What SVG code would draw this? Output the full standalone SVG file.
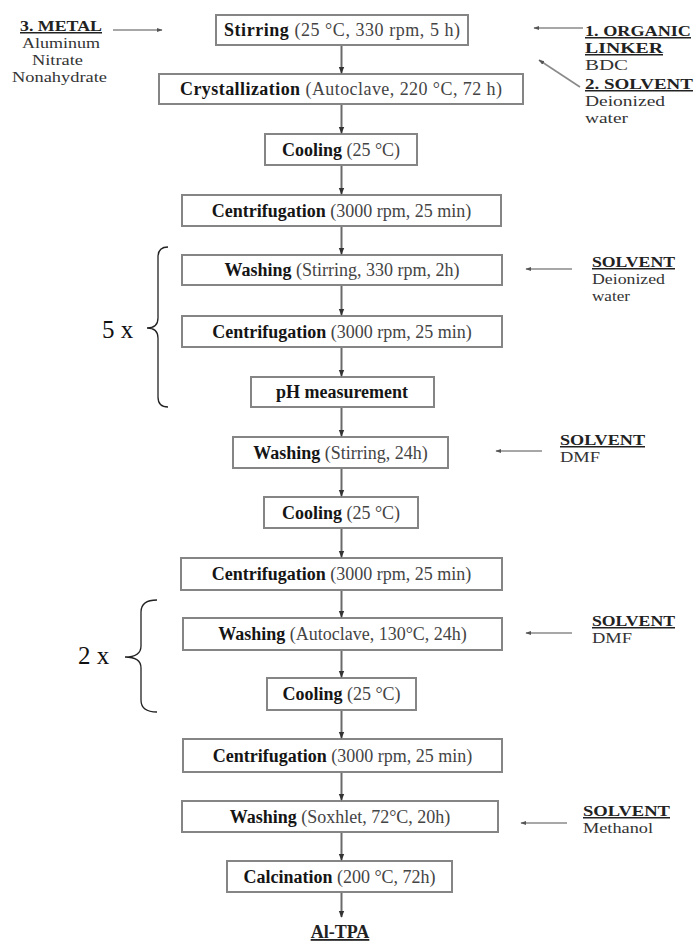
<svg xmlns="http://www.w3.org/2000/svg" width="697" height="947" viewBox="0 0 697 947">
<defs>
<marker id="ah" viewBox="0 0 10 10" refX="9" refY="5" markerWidth="7" markerHeight="7" markerUnits="userSpaceOnUse" orient="auto">
<path d="M0,1 L10,5 L0,9 z" fill="#333"/>
</marker>
<marker id="ahs" viewBox="0 0 10 10" refX="9" refY="5" markerWidth="6" markerHeight="6" markerUnits="userSpaceOnUse" orient="auto">
<path d="M0,1.5 L10,5 L0,8.5 z" fill="#555"/>
</marker>
<style>
text{font-family:"Liberation Serif","Times New Roman",serif;font-size:18px;fill:#2a2a2a}
.box rect{fill:#fff;stroke:#858585;stroke-width:2}
.box text{text-anchor:middle}
.b{font-weight:bold;fill:#151515}
.r{fill:#444}
.hd{font-weight:bold;text-decoration:underline;fill:#222}
.lbl{fill:#333}
.sl{font-size:15px}
.conn line{stroke:#6a6a6a;stroke-width:2}
.side line{stroke:#8a8a8a;stroke-width:1.6}
.brace{fill:none;stroke:#222;stroke-width:1.3}
.rep{font-size:25px;fill:#111}
</style>
</defs>
<rect width="697" height="947" fill="#fff"/>

<g id="n1" class="box"><rect x="216" y="15" width="252" height="30"/><text x="342" y="36" textLength="236" lengthAdjust="spacing"><tspan class="b">Stirring</tspan><tspan class="r"> (25 °C, 330 rpm, 5 h)</tspan></text></g>
<g id="n2" class="box"><rect x="159" y="74" width="364" height="30"/><text x="341" y="95" textLength="322" lengthAdjust="spacing"><tspan class="b">Crystallization</tspan><tspan class="r"> (Autoclave, 220 °C, 72 h)</tspan></text></g>
<g id="n3" class="box"><rect x="265" y="134" width="152" height="31"/><text x="341" y="156"><tspan class="b">Cooling</tspan><tspan class="r"> (25 °C)</tspan></text></g>
<g id="n4" class="box"><rect x="182" y="195" width="319" height="31"/><text x="341.5" y="217"><tspan class="b">Centrifugation</tspan><tspan class="r"> (3000 rpm, 25 min)</tspan></text></g>
<g id="n5" class="box"><rect x="182" y="255" width="320" height="30"/><text x="342" y="276"><tspan class="b">Washing</tspan><tspan class="r"> (Stirring, 330 rpm, 2h)</tspan></text></g>
<g id="n6" class="box"><rect x="182" y="316" width="320" height="31"/><text x="342" y="338"><tspan class="b">Centrifugation</tspan><tspan class="r"> (3000 rpm, 25 min)</tspan></text></g>
<g id="n7" class="box"><rect x="251" y="377" width="183" height="30"/><text x="342" y="398"><tspan class="b">pH measurement</tspan></text></g>
<g id="n8" class="box"><rect x="233" y="437" width="215" height="31"/><text x="340.5" y="459"><tspan class="b">Washing</tspan><tspan class="r"> (Stirring, 24h)</tspan></text></g>
<g id="n9" class="box"><rect x="264" y="497" width="154" height="31"/><text x="341" y="519"><tspan class="b">Cooling</tspan><tspan class="r"> (25 °C)</tspan></text></g>
<g id="n10" class="box"><rect x="181" y="558" width="321" height="32"/><text x="341.5" y="580"><tspan class="b">Centrifugation</tspan><tspan class="r"> (3000 rpm, 25 min)</tspan></text></g>
<g id="n11" class="box"><rect x="183" y="618" width="319" height="32"/><text x="342.5" y="640"><tspan class="b">Washing</tspan><tspan class="r"> (Autoclave, 130°C, 24h)</tspan></text></g>
<g id="n12" class="box"><rect x="267" y="678" width="149" height="32"/><text x="341.5" y="700"><tspan class="b">Cooling</tspan><tspan class="r"> (25 °C)</tspan></text></g>
<g id="n13" class="box"><rect x="183" y="739" width="319" height="33"/><text x="342.5" y="762"><tspan class="b">Centrifugation</tspan><tspan class="r"> (3000 rpm, 25 min)</tspan></text></g>
<g id="n14" class="box"><rect x="182" y="801" width="316" height="31"/><text x="340" y="823"><tspan class="b">Washing</tspan><tspan class="r"> (Soxhlet, 72°C, 20h)</tspan></text></g>
<g id="n15" class="box"><rect x="227" y="861" width="225" height="31"/><text x="339.5" y="883"><tspan class="b">Calcination</tspan><tspan class="r"> (200 °C, 72h)</tspan></text></g>
<g id="product"><text x="340" y="938" class="hd" text-anchor="middle">Al-TPA</text></g>

<g id="connectors">
<g class="conn">
<line x1="341.5" y1="46" x2="341.5" y2="73" marker-end="url(#ah)"/>
<line x1="341.5" y1="105" x2="341.5" y2="133" marker-end="url(#ah)"/>
<line x1="341.5" y1="166" x2="341.5" y2="194" marker-end="url(#ah)"/>
<line x1="341.5" y1="227" x2="341.5" y2="254" marker-end="url(#ah)"/>
<line x1="341.5" y1="286" x2="341.5" y2="315" marker-end="url(#ah)"/>
<line x1="341.5" y1="348" x2="341.5" y2="376" marker-end="url(#ah)"/>
<line x1="341.5" y1="408" x2="341.5" y2="436" marker-end="url(#ah)"/>
<line x1="341.5" y1="469" x2="341.5" y2="496" marker-end="url(#ah)"/>
<line x1="341.5" y1="529" x2="341.5" y2="557" marker-end="url(#ah)"/>
<line x1="341.5" y1="591" x2="341.5" y2="617" marker-end="url(#ah)"/>
<line x1="341.5" y1="651" x2="341.5" y2="677" marker-end="url(#ah)"/>
<line x1="341.5" y1="711" x2="341.5" y2="738" marker-end="url(#ah)"/>
<line x1="341.5" y1="773" x2="341.5" y2="800" marker-end="url(#ah)"/>
<line x1="341.5" y1="833" x2="341.5" y2="860" marker-end="url(#ah)"/>
<line x1="341.5" y1="893" x2="341.5" y2="917" marker-end="url(#ah)"/>
</g>
<g class="side">
<line x1="113" y1="30" x2="162" y2="30" marker-end="url(#ahs)"/>
<line x1="583" y1="28" x2="534" y2="28" marker-end="url(#ahs)"/>
<line x1="580" y1="87" x2="539" y2="60" marker-end="url(#ahs)"/>
<line x1="572" y1="269" x2="526" y2="269" marker-end="url(#ahs)"/>
<line x1="542" y1="451" x2="496" y2="451" marker-end="url(#ahs)"/>
<line x1="572" y1="633" x2="526" y2="633" marker-end="url(#ahs)"/>
<line x1="567" y1="823" x2="521" y2="823" marker-end="url(#ahs)"/>
</g>
</g>

<g id="metal">
<text x="20" y="31" class="hd sl" textLength="82" lengthAdjust="spacingAndGlyphs">3. METAL</text>
<text x="22" y="48" class="lbl sl" textLength="78" lengthAdjust="spacingAndGlyphs">Aluminum</text>
<text x="32" y="65" class="lbl sl" textLength="51" lengthAdjust="spacingAndGlyphs">Nitrate</text>
<text x="12" y="82" class="lbl sl" textLength="95" lengthAdjust="spacingAndGlyphs">Nonahydrate</text>
</g>
<g id="linker">
<text x="585" y="36" class="hd sl" textLength="106" lengthAdjust="spacingAndGlyphs">1. ORGANIC</text>
<text x="585" y="53" class="hd sl" textLength="78" lengthAdjust="spacingAndGlyphs">LINKER</text>
<text x="585" y="70" class="lbl sl" textLength="43" lengthAdjust="spacingAndGlyphs">BDC</text>
<text x="585" y="89" class="hd sl" textLength="108" lengthAdjust="spacingAndGlyphs">2. SOLVENT</text>
<text x="585" y="106" class="lbl sl" textLength="80" lengthAdjust="spacingAndGlyphs">Deionized</text>
<text x="585" y="123" class="lbl sl" textLength="43" lengthAdjust="spacingAndGlyphs">water</text>
</g>
<g id="solvent1">
<text x="592" y="267" class="hd sl" textLength="83" lengthAdjust="spacingAndGlyphs">SOLVENT</text>
<text x="592" y="284" class="lbl sl" textLength="73" lengthAdjust="spacingAndGlyphs">Deionized</text>
<text x="592" y="301" class="lbl sl" textLength="38" lengthAdjust="spacingAndGlyphs">water</text>
</g>
<g id="solvent2">
<text x="560" y="445" class="hd sl" textLength="85" lengthAdjust="spacingAndGlyphs">SOLVENT</text>
<text x="560" y="462" class="lbl sl" textLength="40" lengthAdjust="spacingAndGlyphs">DMF</text>
</g>
<g id="solvent3">
<text x="592" y="626" class="hd sl" textLength="83" lengthAdjust="spacingAndGlyphs">SOLVENT</text>
<text x="592" y="643" class="lbl sl" textLength="40" lengthAdjust="spacingAndGlyphs">DMF</text>
</g>
<g id="solvent4">
<text x="583" y="816" class="hd sl" textLength="87" lengthAdjust="spacingAndGlyphs">SOLVENT</text>
<text x="583" y="833" class="lbl sl" textLength="70" lengthAdjust="spacingAndGlyphs">Methanol</text>
</g>

<g id="repeat5">
<path class="brace" d="M168,247 Q158,247 158,257 L158,318 Q158,328 147,328 Q158,328 158,338 L158,397 Q158,407 168,407"/>
<text x="102" y="338" class="rep">5 x</text>
</g>
<g id="repeat2">
<path class="brace" d="M157,600 Q141,600 141,612 L141,646 Q141,657 125,657 Q141,657 141,668 L141,700 Q141,712 157,712"/>
<text x="78" y="664" class="rep">2 x</text>
</g>
</svg>
